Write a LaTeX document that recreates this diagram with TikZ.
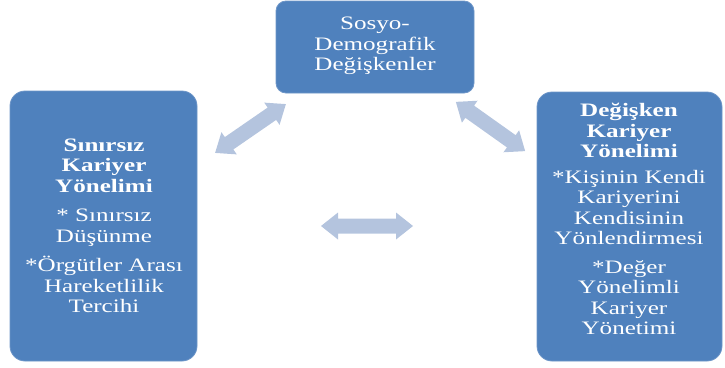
\documentclass[tikz,border=0pt]{standalone}
\usepackage{fontspec}
\setmainfont{Liberation Serif}[FakeStretch=1.32]
\definecolor{boxblue}{RGB}{79,129,189}
\definecolor{boxedge}{RGB}{110,150,200}
\definecolor{arrowblue}{RGB}{180,196,222}
\tikzset{
  panel/.style={fill=boxblue, draw=boxedge, line width=0.8pt},
  paneltext/.style={text=white, align=center, inner sep=0pt, font=\fontsize{19}{20.5}\selectfont},
  dblarr/.style={fill=arrowblue, draw=none}
}
% #1 name, #2 centre, #3 angle, #4 length
\newcommand{\DblArrow}[4]{%
  \coordinate (#1) at #2;
  \begin{scope}[shift={(#1)}, rotate=#3, x=1pt, y=1pt]
    \fill[dblarr] (-#4/2,0) -- (-#4/2+17,13.5) -- (-#4/2+17,7.5) -- (#4/2-17,7.5)
      -- (#4/2-17,13.5) -- (#4/2,0) -- (#4/2-17,-13.5) -- (#4/2-17,-7.5)
      -- (-#4/2+17,-7.5) -- (-#4/2+17,-13.5) -- cycle;
  \end{scope}}
\begin{document}
\begin{tikzpicture}[x=1pt,y=-1pt]
\useasboundingbox (0,0) rectangle (725,367);
% boxes
\draw[panel, rounded corners=10pt] (276,1) rectangle (474,93);
\draw[panel, rounded corners=15pt] (10,91) rectangle (197,361);
\draw[panel, rounded corners=15pt] (537,92) rectangle (722,361);
% texts
\node[paneltext] (top) at (375,46) {Sosyo-\\Demografik\\Değişkenler};
\node[paneltext] (left) at (104,226) {\textbf{Sınırsız}\\\textbf{Kariyer}\\\textbf{Yönelimi}\\[9pt]
  * Sınırsız\\Düşünme\\[9pt]*Örgütler Arası\\Hareketlilik\\Tercihi};
\node[paneltext] (right) at (629,219) {\textbf{Değişken}\\\textbf{Kariyer}\\\textbf{Yönelimi}\\[5pt]
  *Kişinin Kendi\\Kariyerini\\Kendisinin\\Yönlendirmesi\\[8pt]*Değer\\Yönelimli\\Kariyer\\Yönetimi};
% arrows
\DblArrow{a1}{(250.5,128.5)}{34.6}{86}
\DblArrow{a2}{(490.5,126.5)}{-35.4}{85}
\DblArrow{a3}{(367,226)}{0}{92}
\end{tikzpicture}
\end{document}
